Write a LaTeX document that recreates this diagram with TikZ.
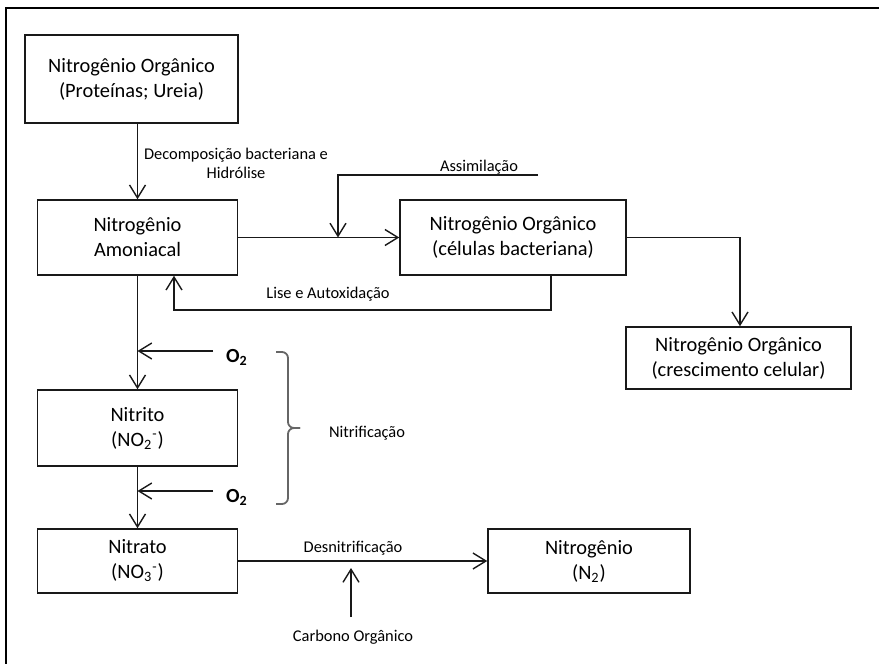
\documentclass[tikz,border=0pt]{standalone}
\usepackage{fontspec}
\setmainfont{Carlito}
\usetikzlibrary{arrows.meta}
\tikzset{
  box/.style={draw=black!90, line width=0.75pt, align=center, inner sep=0pt, font=\fontsize{10.2}{12.5}\selectfont},
  flow/.style={draw=black!90, line width=0.7pt, -{Straight Barb[length=6.5pt,width=8pt,line width=0.7pt]}},
  tag/.style={font=\fontsize{8.2}{9.5}\selectfont, align=center, inner sep=0pt},
  gas/.style={font=\bfseries\fontsize{10}{12}\selectfont, inner sep=0pt},
  bracket/.style={draw=black!60, line width=0.9pt, rounded corners=3pt},
  frame/.style={draw=black, line width=1pt},
}

\begin{document}
\begin{tikzpicture}[x=0.5pt, y=-0.5pt]
\useasboundingbox (0,0) rectangle (879,664);
\draw[frame] (879,8) -- (6,8) -- (6,664);
\node[box, minimum width=106.5pt, minimum height=44pt] (orgprot) at (131.5,79) {Nitrogênio Orgânico\\(Proteínas; Ureia)};
\node[box, minimum width=100pt, minimum height=37.5pt] (amon) at (137.5,237.5) {Nitrogênio\\Amoniacal};
\node[box, minimum width=113pt, minimum height=37.5pt] (orgcel) at (513,237.5) {Nitrogênio Orgânico\\(células bacteriana)};
\node[box, minimum width=112.5pt, minimum height=31pt] (orgcresc) at (738.5,358) {Nitrogênio Orgânico\\(crescimento celular)};
\node[box, minimum width=100pt, minimum height=38pt] (nitrito) at (137.5,428) {Nitrito\\(NO\textsubscript{2}\textsuperscript{-})};
\node[box, minimum width=100pt, minimum height=32pt] (nitrato) at (137.5,561) {Nitrato\\(NO\textsubscript{3}\textsuperscript{-})};
\node[box, minimum width=101pt, minimum height=32pt] (ntwo) at (589,561) {Nitrogênio\\(N\textsubscript{2})};
\node[tag] (decomplbl) at (236,163) {Decomposição bacteriana e\\Hidrólise};
\node[tag] (assimlbl) at (479,167) {Assimilação};
\node[tag] (liselbl) at (328,294) {Lise e Autoxidação};
\node[tag] (nitriflbl) at (367,433) {Nitrificação};
\node[tag] (desnitlbl) at (353,548) {Desnitrificação};
\node[tag] (carblbl) at (353,637) {Carbono Orgânico};
\node[gas] (otop) at (237,357) {O\textsubscript{2}};
\node[gas] (obot) at (237,497) {O\textsubscript{2}};
\coordinate (assimend) at (538,175);
\coordinate (assimjoin) at (338,237.5);
\coordinate (lisecorner) at (174,310);
\coordinate (otopend) at (213,351);
\coordinate (obotend) at (213,491);
\coordinate (carbend) at (351,617);
\coordinate (bracetip) at (300,428);
\draw[flow] (amon.north |- orgprot.south) -- (amon.north);
\draw[flow] (amon.east) -- (orgcel.west);
\draw[flow] (assimend) -| (assimjoin);
\draw[flow] ([xshift=19pt]orgcel.south) |- (lisecorner) -- (lisecorner |- amon.south);
\draw[flow] (orgcel.east) -| ([xshift=0.75pt]orgcresc.north);
\draw[flow] (amon.south) -- (nitrito.north);
\draw[flow] (otopend) -- (otopend -| amon.south);
\draw[flow] (nitrito.south) -- (nitrato.north);
\draw[flow] (obotend) -- (obotend -| nitrito.south);
\draw[flow] (nitrato.east) -- (ntwo.west);
\draw[flow] (carbend) -- ++(0,-49);
\draw[bracket] (276,352) -| (288,428) -- (bracetip);
\draw[bracket] (276,504) -| (288,428) -- (bracetip);
\end{tikzpicture}
\end{document}
